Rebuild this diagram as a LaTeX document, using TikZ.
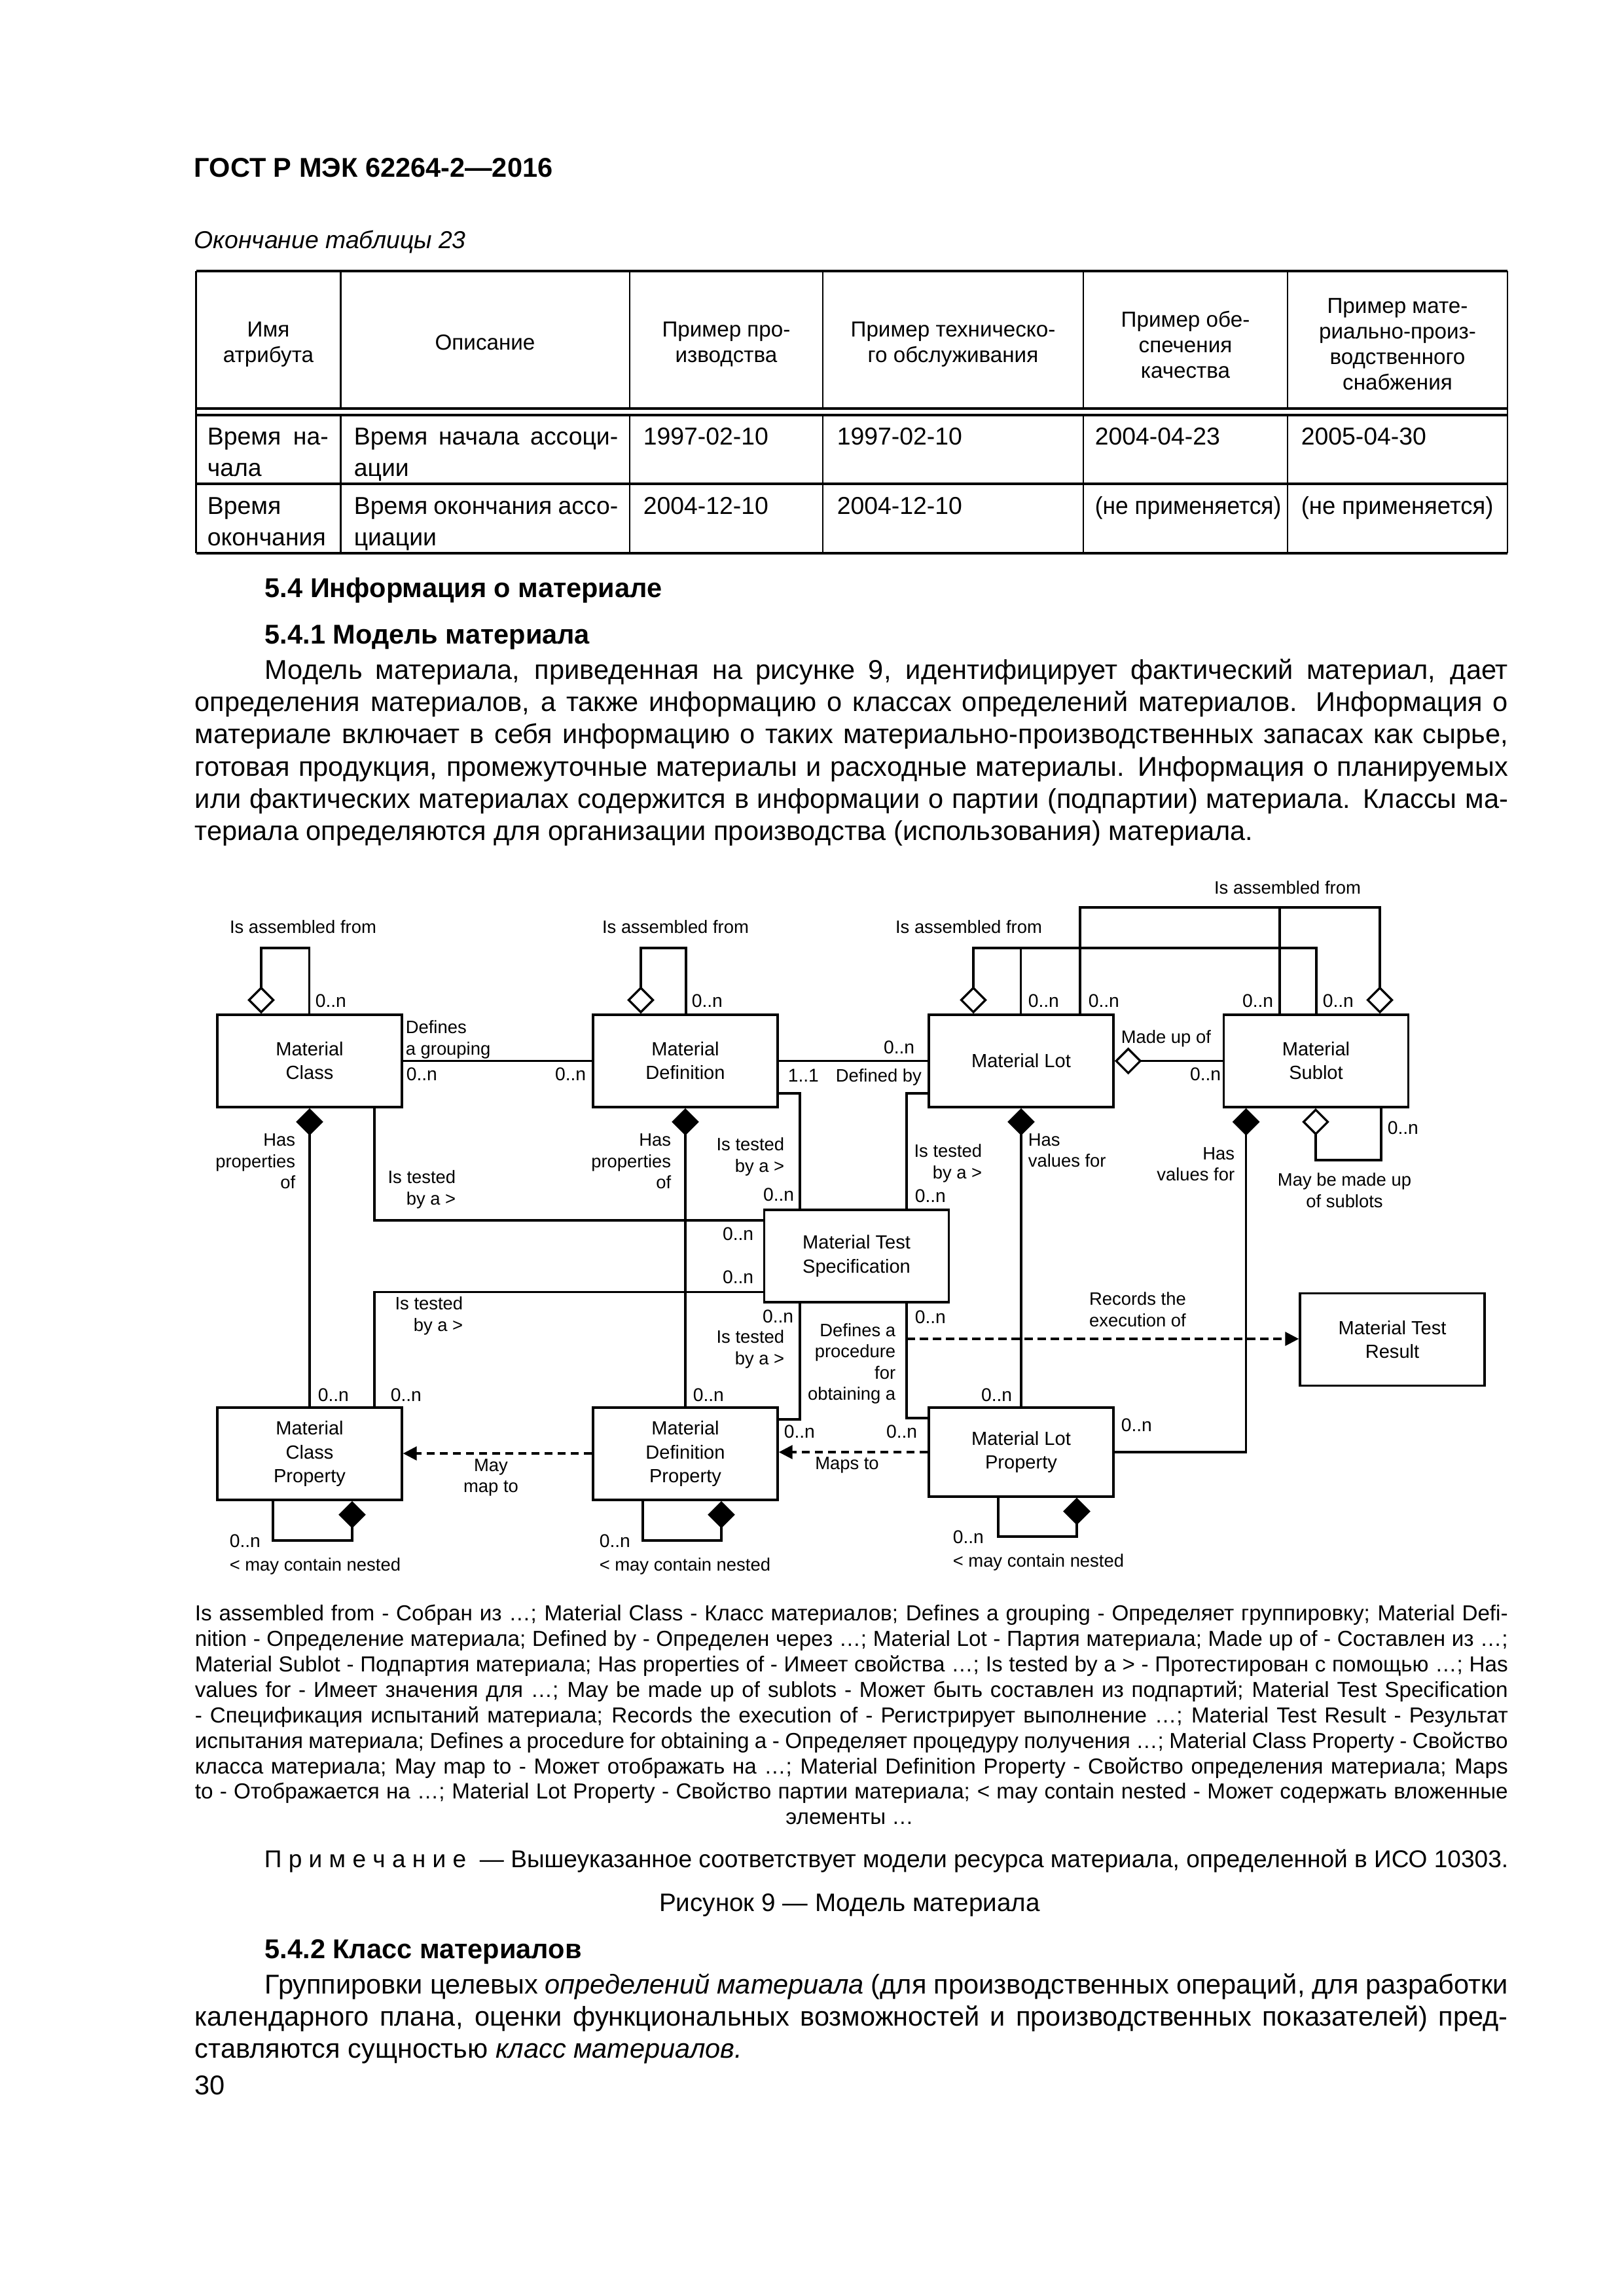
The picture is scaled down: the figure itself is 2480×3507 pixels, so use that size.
\documentclass[tikz,border=0pt]{standalone}
\usepackage{fontspec}
\usepackage{graphicx}
\setmainfont{Liberation Sans}
\usetikzlibrary{arrows.meta}
\newlength\pxl \setlength\pxl{0.24bp}
\newcounter{txl}
\newcommand\jline[5]{\stepcounter{txl}\node[anchor=base west,inner sep=0pt,font=#1] (txt\arabic{txl}) at (#2,#3) {\makebox[#4\pxl][s]{#5}};}
\newcommand\pline[4]{\stepcounter{txl}\node[anchor=base west,inner sep=0pt,font=#1] (txt\arabic{txl}) at (#2,#3) {#4};}
\newcommand\bodyf{\fontsize{10}{11.85}\selectfont}
\newcommand\itf{\fontsize{9}{11}\selectfont\itshape}
\newcommand\headf{\fontsize{10}{12}\selectfont\bfseries}
\newcommand\secf{\fontsize{10}{12}\selectfont\bfseries}
\newcommand\legf{\fontsize{8}{9.4}\selectfont}
\newcommand\cellf{\fontsize{9}{11.6}\selectfont}
\newcommand\thf{\fontsize{8}{9.4}\selectfont}
\newcommand\notef{\fontsize{8.93}{11}\selectfont}
\newcommand\capf{\fontsize{9.3}{11}\selectfont}
\tikzset{
 cls/.style={draw,line width=0.85pt,inner sep=0pt,minimum width=67.68bp,minimum height=33.84bp,align=center,font=\fontsize{7}{8.7}\selectfont},
 lbl/.style={inner sep=0pt,font=\fontsize{6.6}{7.8}\selectfont},
 mul/.style={inner sep=0pt,font=\fontsize{6.8}{8}\selectfont},
 conn/.style={line width=0.8pt},
 agg/.style={conn,{Diamond[open,length=10bp,width=10bp]}-},
 comp/.style={conn,{Diamond[length=10bp,width=10bp]}-},
 dep/.style={conn,dash pattern=on 3bp off 1.8bp,-{Triangle[length=5bp,width=5bp]}},
 thcell/.style={inner sep=0pt,align=center,font=\thf},
}
\begin{document}
\begin{tikzpicture}[x=0.24bp,y=-0.24bp]
\useasboundingbox (0,0) rectangle (2480,3507);
\fill[white] (0,0) rectangle (2480,3507);

% ---------- header ----------
\pline{\headf}{296}{270}{ГОСТ Р МЭК 62264-2—2016}
\pline{\itf}{296}{379}{Окончание таблицы 23}

% ---------- table ----------
\draw[line width=1pt] (299.5,414) -- (2303,414);
\draw[line width=0.9pt] (299.5,624) -- (2303,624);
\draw[line width=0.9pt] (299.5,634) -- (2303,634);
\draw[line width=0.9pt] (299.5,739) -- (2303,739);
\draw[line width=0.75pt] (299.5,845) -- (2303,845);
\draw[line width=0.65pt] (299.5,414) -- (299.5,845);
\draw[line width=0.65pt] (2303,414) -- (2303,845);
\foreach \cx in {520.7,962,1257,1655,1967}{
 \draw[line width=0.65pt] (\cx,414) -- (\cx,624);
 \draw[line width=0.65pt] (\cx,634) -- (\cx,845);
}
\node[thcell] (h1) at (410,526) {Имя\\атрибута};
\node[thcell] (h2) at (741,523) {Описание};
\node[thcell] (h3) at (1109.5,526) {Пример про-\\изводства};
\node[thcell] (h4) at (1456,526) {Пример техническо-\\го обслуживания};
\node[thcell] (h5) at (1811,526) {Пример обе-\\спечения\\качества};
\node[thcell] (h6) at (2135,526) {Пример мате-\\риально-произ-\\водственного\\снабжения};

\jline{\cellf}{316}{679}{185}{Время на-}
\pline{\cellf}{316}{727}{чала}
\jline{\cellf}{540}{679}{403.5}{Время начала ассоци-}
\pline{\cellf}{540}{727}{ации}
\pline{\cellf}{982}{679}{1997-02-10}
\pline{\cellf}{1278}{679}{1997-02-10}
\pline{\cellf}{1672}{679}{2004-04-23}
\pline{\cellf}{1987}{679}{2005-04-30}
\pline{\cellf}{316}{785}{Время}
\pline{\cellf}{316}{833}{окончания}
\jline{\cellf}{540}{785}{403.5}{Время окончания ассо-}
\pline{\cellf}{540}{833}{циации}
\pline{\cellf}{982}{785}{2004-12-10}
\pline{\cellf}{1278}{785}{2004-12-10}
\pline{\cellf}{1672}{785}{\scalebox{0.945}[1]{(не применяется)}}
\pline{\cellf}{1987}{785}{\scalebox{0.975}[1]{(не применяется)}}

% ---------- text ----------
\pline{\secf}{404}{912}{5.4 Информация о материале}
\pline{\secf}{404}{983}{5.4.1 Модель материала}
\jline{\bodyf}{404}{1037}{1899}{Модель материала, приведенная на рисунке 9, идентифицирует фактический материал, дает}
\jline{\bodyf}{297}{1086}{2006}{определения материалов, а также информацию о классах определений материалов. Информация о}
\jline{\bodyf}{297}{1135}{2006}{материале включает в себя информацию о таких материально-производственных запасах как сырье,}
\jline{\bodyf}{297}{1185}{2006}{готовая продукция, промежуточные материалы и расходные материалы. Информация о планируемых}
\jline{\bodyf}{297}{1234}{2006}{или фактических материалах содержится в информации о партии (подпартии) материала. Классы ма-}
\pline{\bodyf}{297}{1283}{териала определяются для организации производства (использования) материала.}

% ---------- diagram boxes ----------
\node[cls] (mc) at (473,1620.5) {Material\\Class};
\node[cls] (md) at (1047,1620.5) {Material\\Definition};
\node[cls] (ml) at (1560,1620.5) {Material Lot};
\node[cls] (ms) at (2010.5,1620.5) {Material\\Sublot};
\node[cls] (mts) at (1308.5,1918.5) {Material Test\\Specification};
\node[cls] (mtr) at (2127,2046) {Material Test\\Result};
\node[cls] (mcp) at (473,2220.5) {Material\\Class\\Property};
\node[cls] (mdp) at (1047,2220.5) {Material\\Definition\\Property};
\node[cls,minimum height=32.6bp] (mlp) at (1560,2218) {Material Lot\\Property};

% MC self
\draw[agg] (mc.north -| 399,0) |- (472.5,1448) -- (mc.north -| 472.5,0);
\node[lbl] (l1) at (463,1416) {Is assembled from};
\node[mul,anchor=west] (m1) at (481,1529) {0..n};
% MD self
\draw[agg] (md.north -| 979,0) |- (1048,1448) -- (md.north -| 1048,0);
\node[lbl] (l2) at (1032,1416) {Is assembled from};
\node[mul,anchor=west] (m2) at (1056,1529) {0..n};
% grouping
\draw[conn] (mc.east) -- (md.west);
\node[lbl,anchor=west,align=left] (l3) at (619,1588) {Defines\\a grouping};
\node[mul,anchor=west] (m3) at (620,1641) {0..n};
\node[mul,anchor=east] (m4) at (896,1641) {0..n};
% defined by
\draw[conn] (md.east) -- (ml.west);
\node[mul,anchor=east] (m5) at (1398,1600) {0..n};
\node[mul,anchor=west] (m6) at (1203,1643) {1..1};
\node[lbl,anchor=west] (l4) at (1276,1645) {Defined by};
% made up of
\draw[agg] (ml.east) -- (ms.west);
\node[lbl,anchor=west] (l5) at (1712,1586) {Made up of};
\node[mul,anchor=east] (m7) at (1866,1641) {0..n};
% lot / sublot assembled (lower)
\coordinate (j1) at (1559.5,1448);
\draw[agg] (ml.north -| 1487,0) |- (2011,1448) -- (ms.north -| 2011,0);
\draw[conn] (j1) -- (ml.north -| j1);
\node[lbl] (l6) at (1480,1416) {Is assembled from};
\node[mul,anchor=west] (m8) at (1570,1529) {0..n};
\node[mul,anchor=west] (m9) at (2020,1529) {0..n};
% lot / sublot assembled (upper)
\coordinate (j2) at (1955,1386);
\draw[agg] (ms.north -| 2108,0) |- (1650,1386) -- (ml.north -| 1650,0);
\draw[conn] (j2) -- (ms.north -| j2);
\node[lbl] (l7) at (1967,1356) {Is assembled from};
\node[mul,anchor=west] (m10) at (1662,1529) {0..n};
\node[mul,anchor=east] (m11) at (1946,1529) {0..n};
% sublot self
\draw[agg] (ms.south -| 2010,0) |- (2110,1772) -- (ms.south -| 2110,0);
\node[mul,anchor=west] (m12) at (2119,1723) {0..n};
\node[lbl,align=center] (l8) at (2054,1818) {May be made up\\of sublots};
% has properties
\draw[comp] (mc.south) -- (mcp.north);
\node[lbl,align=right,anchor=east] (l9) at (452,1774) {Has\\properties\\of};
\node[mul,anchor=west] (m13) at (485,2131) {0..n};
\draw[comp] (md.south) -- (mdp.north);
\node[lbl,align=right,anchor=east] (l10) at (1026,1774) {Has\\properties\\of};
\node[mul,anchor=west] (m14) at (1058,2131) {0..n};
% MC tested
\draw[conn] (mc.south -| 572,0) |- (mts.west |- 0,1864);
\node[lbl,align=right,anchor=east] (l11) at (697,1817) {Is tested\\by a >};
\node[mul,anchor=east] (m15) at (1152,1885) {0..n};
% MCP tested
\draw[conn] (mcp.north -| 572,0) |- (mts.west |- 0,1973.5);
\node[lbl,align=right,anchor=east] (l12) at (708,2010) {Is tested\\by a >};
\node[mul,anchor=west] (m16) at (596,2131) {0..n};
\node[mul,anchor=east] (m17) at (1152,1951) {0..n};
% MD tested
\draw[conn] (md.east |- 0,1670) -| (mts.north -| 1222,0);
\node[lbl,align=right,anchor=east] (l13) at (1199,1767) {Is tested\\by a >};
\node[mul,anchor=east] (m18) at (1214,1825) {0..n};
% ML tested
\draw[conn] (ml.west |- 0,1670) -| (mts.north -| 1385,0);
\node[lbl,align=right,anchor=east] (l14) at (1501,1777) {Is tested\\by a >};
\node[mul,anchor=west] (m19) at (1397,1827) {0..n};
% MDP tested
\draw[conn] (mts.south -| 1222,0) |- (mdp.east |- 0,2168);
\node[mul,anchor=east] (m20) at (1213,2011) {0..n};
\node[lbl,align=right,anchor=east] (l15) at (1199,2061) {Is tested\\by a >};
\node[mul,anchor=west] (m21) at (1197,2187) {0..n};
% MLP procedure
\draw[conn] (mts.south -| 1385,0) |- (mlp.west |- 0,2166);
\node[mul,anchor=west] (m22) at (1397,2012) {0..n};
\node[lbl,align=right,anchor=east] (l16) at (1369,2083) {Defines a\\procedure\\for\hspace*{2.5pt}\\obtaining a};
\node[mul,anchor=east] (m23) at (1402,2187) {0..n};
% records
\coordinate (rx) at (1385,2045);
\draw[dep] (rx) -- (mtr.west |- rx);
\node[lbl,align=center] (l17) at (1738,2000) {Records the\\execution of};
% ML has values
\draw[comp] (ml.south) -- (mlp.north);
\node[lbl,align=left,anchor=west] (l18) at (1570,1757) {Has\\values for};
\node[mul,anchor=east] (m24) at (1547,2131) {0..n};
% MS has values
\draw[comp] (ms.south -| 1903.6,0) |- (mlp.east |- 0,2218);
\node[lbl,align=right,anchor=east] (l19) at (1887,1778) {Has\\values for};
\node[mul,anchor=west] (m25) at (1712,2177) {0..n};
% maps to
\draw[dep] (mlp.west |- 0,2218) -- (mdp.east |- 0,2218);
\node[lbl] (l20) at (1294,2238) {Maps to};
\draw[dep] (mdp.west |- 0,2220) -- (mcp.east |- 0,2220);
\node[lbl,align=center] (l21) at (750,2257) {May\\map to};
% nested loops
\draw[comp] (mcp.south -| 538,0) |- (417,2353) -- (mcp.south -| 417,0);
\node[mul,anchor=west] (m26) at (350,2354) {0..n};
\node[lbl,anchor=west] (l22) at (350,2392) {< may contain nested};
\draw[comp] (mdp.south -| 1102,0) |- (982,2353) -- (mdp.south -| 982,0);
\node[mul,anchor=west] (m27) at (915,2354) {0..n};
\node[lbl,anchor=west] (l23) at (915,2392) {< may contain nested};
\draw[comp] (mlp.south -| 1645,0) |- (1525,2347) -- (mlp.south -| 1525,0);
\node[mul,anchor=west] (m28) at (1455,2348) {0..n};
\node[lbl,anchor=west] (l24) at (1455,2386) {< may contain nested};

% ---------- legend ----------
\jline{\legf}{297}{2475}{2006}{Is assembled from - Собран из …; Material Class - Класс материалов; Defines a grouping - Определяет группировку; Material Defi-}
\jline{\legf}{297}{2514}{2006}{nition - Определение материала; Defined by - Определен через …; Material Lot - Партия материала; Made up of - Составлен из …;}
\jline{\legf}{297}{2553}{2006}{Material Sublot - Подпартия материала; Has properties of - Имеет свойства …; Is tested by a > - Протестирован с помощью …; Has}
\jline{\legf}{297}{2592}{2006}{values for - Имеет значения для …; May be made up of sublots - Может быть составлен из подпартий; Material Test Specification}
\jline{\legf}{297}{2631}{2006}{- Спецификация испытаний материала; Records the execution of - Регистрирует выполнение …; Material Test Result - Результат}
\jline{\legf}{297}{2670}{2006}{испытания материала; Defines a procedure for obtaining a - Определяет процедуру получения …; Material Class Property - Свойство}
\jline{\legf}{297}{2709}{2006}{класса материала; May map to - Может отображать на …; Material Definition Property - Свойство определения материала; Maps}
\jline{\legf}{297}{2747}{2006}{to - Отображается на …; Material Lot Property - Свойство партии материала; < may contain nested - Может содержать вложенные}
\node[anchor=base,inner sep=0pt,font=\legf] (leg9) at (1298,2786) {элементы …};

\pline{\notef}{403}{2852}{П р и м е ч а н и е~~— Вышеуказанное соответствует модели ресурса материала, определенной в ИСО 10303.}
\node[anchor=base,inner sep=0pt,font=\capf] (cap) at (1298,2919) {Рисунок 9 — Модель материала};

\pline{\secf}{404}{2991}{5.4.2 Класс материалов}
\jline{\bodyf}{404}{3045}{1899}{Группировки целевых \textit{определений материала} (для производственных операций, для разработки}
\jline{\bodyf}{297}{3094}{2006}{календарного плана, оценки функциональных возможностей и производственных показателей) пред-}
\pline{\bodyf}{297}{3143}{ставляются сущностью \textit{класс материалов.}}
\pline{\bodyf}{297}{3199}{30}
\end{tikzpicture}
\end{document}
